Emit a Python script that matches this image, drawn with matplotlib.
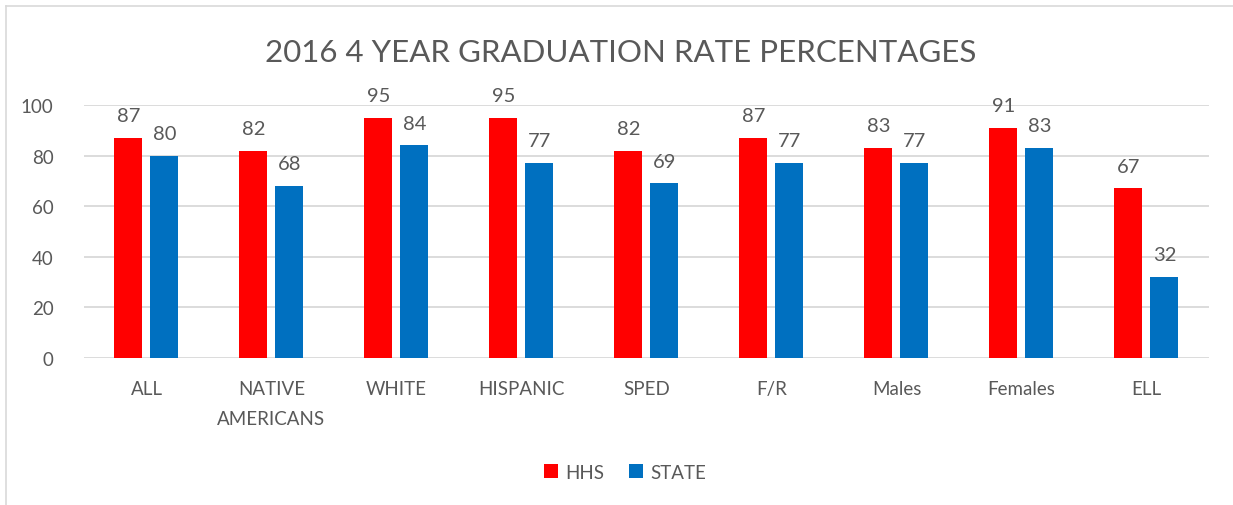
import matplotlib
matplotlib.use("Agg")
import matplotlib.pyplot as plt
import numpy as np

categories = ["ALL", "NATIVE\nAMERICANS", "WHITE", "HISPANIC", "SPED", "F/R", "Males", "Females", "ELL"]
hhs = [87, 82, 95, 95, 82, 87, 83, 91, 67]
state = [80, 68, 84, 77, 69, 77, 77, 83, 32]
yticks = [0, 20, 40, 60, 80, 100]

plt.rcParams['font.family'] = ['Lato', 'DejaVu Sans']
txt = '#595959'

fig = plt.figure(figsize=(12.33, 5.06), dpi=100)
ax = fig.add_axes([0.0681, 0.2905, 0.9124, 0.5])

x = np.arange(len(categories))
w = 0.224
off = 0.144
b1 = ax.bar(x - off, hhs, w, color='#FF0000', label='HHS', zorder=3)
b2 = ax.bar(x + off, state, w, color='#0070C0', label='STATE', zorder=3)
for bars, vals in ((b1, hhs), (b2, state)):
    for r, v in zip(bars, vals):
        ax.annotate(str(v), (r.get_x() + r.get_width() / 2, v), xytext=(0, 10),
                    textcoords='offset points', ha='center', va='bottom',
                    fontsize=14.5, color=txt)

ax.set_xlim(-0.5, len(categories) - 0.5)
ax.set_ylim(0, 100)
ax.set_yticks(yticks)
ax.set_xticks(x)
ax.set_xticklabels(categories, linespacing=1.9)
ax.tick_params(axis='both', length=0, labelsize=13.5, colors=txt)
ax.tick_params(axis='x', pad=16)
ax.tick_params(axis='y', pad=22)
for t in ax.get_xticklabels():
    t.set_verticalalignment('top')
ax.yaxis.grid(True, color='#D9D9D9', linewidth=1.3, zorder=0)
ax.set_axisbelow(True)
for s in ax.spines.values():
    s.set_visible(False)

fig.text(0.503, 0.896, "2016 4 YEAR GRADUATION RATE PERCENTAGES", ha='center', va='center',
         fontsize=22.5, color=txt)

leg = fig.legend(handles=[b1, b2], labels=['HHS', 'STATE'], loc='center', bbox_to_anchor=(0.507, 0.065),
                 ncol=2, frameon=False, fontsize=13.5, handlelength=0.75, handleheight=0.75,
                 handletextpad=0.4, columnspacing=1.3)
for t in leg.get_texts():
    t.set_color(txt)

# outer chart border (left and top visible)
fig.add_artist(plt.Line2D([6/1233, 6/1233], [0, 1 - 7/506], color='#D9D9D9', linewidth=1.2, transform=fig.transFigure))
fig.add_artist(plt.Line2D([6/1233, 1], [1 - 7/506, 1 - 7/506], color='#D9D9D9', linewidth=1.2, transform=fig.transFigure))

fig.savefig("out.png", dpi=100)
